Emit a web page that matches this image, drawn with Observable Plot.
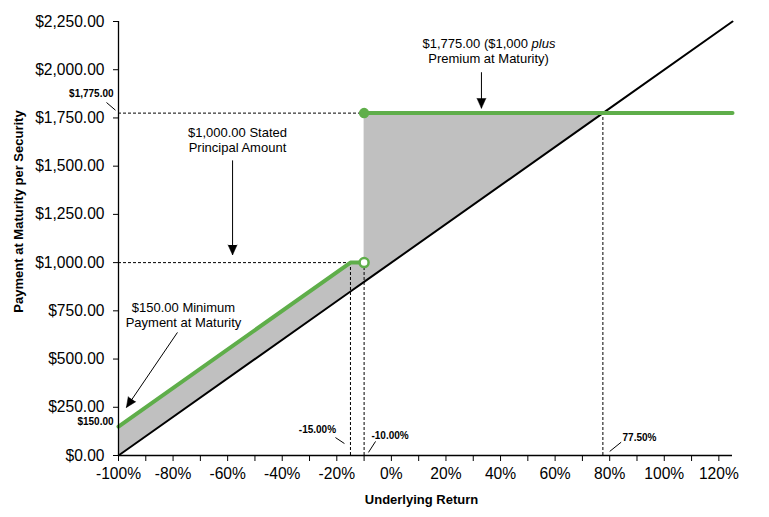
<!DOCTYPE html>
<html>
<head>
<meta charset="utf-8">
<script src="https://cdn.jsdelivr.net/npm/d3@7"></script>
<script src="https://cdn.jsdelivr.net/npm/@observablehq/plot@0.6"></script>
<style>
  html, body { margin: 0; padding: 0; background: white; }
  #chart svg { display: block; }
</style>
</head>
<body>
<div id="chart"></div>
<script>
// ---- data ----
const returns    = [-100, -15, -10, -10, 77.5, 125];   // underlying return (%)
const payment    = [150, 1000, 1000, 1775, 1775, 1775]; // payment at maturity
const underlying = [0, 850, 900, 900, 1775, 2250];      // 1:1 underlying value
const segment    = ["low", "low", "low", "high", "high", "high"];

const xTicks = [-100, -90, -80, -70, -60, -50, -40, -30, -20, -10, 0, 10, 20, 30, 40, 50, 60, 70, 80, 90, 100, 110, 120];
const xLabelled = [-100, -80, -60, -40, -20, 0, 20, 40, 60, 80, 100, 120];
const yTicks = [0, 250, 500, 750, 1000, 1250, 1500, 1750, 2000, 2250];

// dashed guides
const vGuideX   = [-15, -10, 77.5];
const vGuideTop = [1000, 1000, 1775];
const hGuideY   = [1000, 1775];
const hGuideEnd = [-15, -10];

// annotation callouts (data coordinates)
const noteText  = ["$1,000.00 Stated\nPrincipal Amount", "Premium at Maturity)", "$150.00 Minimum\nPayment at Maturity"];
const noteX     = [-56.4, 35.6, -76.2];
const noteY     = [1572, 2034, 664];
const noteLH    = [1.15, 1.15, 1.15];
const arrowX1   = [-58.2, 33.0, -78.4];
const arrowY1   = [1530, 1987, 638];
const arrowX2   = [-58.2, 33.0, -97.1];
const arrowY2   = [1040, 1800, 249];
const arrowRot  = [180, 180, 214];

// small bold value labels
const tagText   = ["$1,775.00", "$150.00", "-15.00%", "-10.00%", "77.50%"];
const tagX      = [-101.8, -101.8, -27.1, -7.3, 84.7];
const tagY      = [1857, 156, 119, 88, 73];
const tagAnchor = ["end", "end", "middle", "start", "start"];
const leadX1    = [-104.4, -20.5, -5.8, 80.0];
const leadY1    = [1830, 93, 73, 21];
const leadX2    = [-101.1, -17.2, -8.4, 84.2];
const leadY2    = [1790, 62, 16, 69];

// ---- tables ----
const pts = returns.map((r, i) => ({r, pay: payment[i], und: underlying[i], seg: segment[i]}));
const areaPts = pts.slice(0, 5);
const vGuides = vGuideX.map((x, i) => ({x, top: vGuideTop[i]}));
const hGuides = hGuideY.map((y, i) => ({y, end: hGuideEnd[i]}));
const notes = noteText.map((t, i) => ({t, x: noteX[i], y: noteY[i], lh: noteLH[i]}));
const arrows = arrowX1.map((x1, i) => ({x1, y1: arrowY1[i], x2: arrowX2[i], y2: arrowY2[i], rot: arrowRot[i]}));
const tags = tagText.map((t, i) => ({t, x: tagX[i], y: tagY[i], a: tagAnchor[i]}));
const leads = leadX1.map((x1, i) => ({x1, y1: leadY1[i], x2: leadX2[i], y2: leadY2[i]}));

const GREEN = "#5fae4a";
const GRAY = "#c0c0c0";
const FONT = "'Liberation Sans', Arial, Helvetica, sans-serif";
const money = d3.format(",.2f");

const tagMark = anchor => Plot.text(tags.filter(d => d.a === anchor), {
  x: "x", y: "y", text: "t", textAnchor: anchor, lineAnchor: "bottom",
  fontSize: 10, fontWeight: "bold", fill: "black"
});
const noteMark = (note, lh) => Plot.text([note], {
  x: "x", y: "y", text: "t", lineAnchor: "bottom", lineHeight: lh, fontSize: 13, fill: "black"
});

const chart = Plot.plot({
  width: 769,
  height: 517,
  marginLeft: 118,
  marginRight: 37,
  marginTop: 21,
  marginBottom: 62,
  style: {fontFamily: FONT, color: "black", background: "white"},
  x: {domain: [-100, 125]},
  y: {domain: [0, 2250]},
  marks: [
    Plot.areaY(areaPts, {x: "r", y1: "und", y2: "pay", fill: GRAY, curve: "linear"}),
    Plot.ruleX(vGuides, {x: "x", y1: 0, y2: "top", stroke: "black", strokeWidth: 1, strokeDasharray: "3,2"}),
    Plot.ruleY(hGuides, {y: "y", x1: -100, x2: "end", stroke: "black", strokeWidth: 1, strokeDasharray: "3,2"}),
    Plot.line(pts, {x: "r", y: "und", stroke: "black", strokeWidth: 2}),
    Plot.line(pts, {x: "r", y: "pay", z: "seg", stroke: GREEN, strokeWidth: 4}),
    Plot.dot([pts[3]], {x: "r", y: "pay", r: 4.5, fill: GREEN, stroke: GREEN}),
    Plot.dot([pts[2]], {x: "r", y: "pay", r: 4.5, fill: "white", stroke: GREEN, strokeWidth: 2.5}),
    // axes
    Plot.ruleX([-100], {y1: 0, y2: 2250, stroke: "black", strokeWidth: 1.3}),
    Plot.ruleY([0], {x1: -100, x2: 125, stroke: "black", strokeWidth: 1.3}),
    Plot.axisY({ticks: yTicks, tickFormat: d => "$" + money(d), tickSize: 5, tickPadding: 9, fontSize: 15.6, label: null, stroke: "black"}),
    Plot.axisX({ticks: xTicks, tickFormat: d => xLabelled.includes(d) ? `${d}%` : "", tickSize: 6, tickPadding: 6, fontSize: 15.6, label: null, stroke: "black"}),
    // axis titles
    Plot.text(["Underlying Return"], {frameAnchor: "bottom", textAnchor: "middle", dx: -4, dy: 48, lineAnchor: "bottom", fontSize: 13, fontWeight: "bold", fill: "black"}),
    Plot.text(["Payment at Maturity per Security"], {frameAnchor: "left", textAnchor: "middle", dx: -100, dy: -27, rotate: -90, lineAnchor: "middle", fontSize: 13, fontWeight: "bold", fill: "black"}),
    // callouts
    noteMark(notes[0], notes[0].lh),
    noteMark(notes[1], notes[1].lh),
    noteMark(notes[2], notes[2].lh),
    Plot.text([notes[1]], {x: "x", y: "y", text: () => "$1,775.00 ($1,000", textAnchor: "end", dx: 39.5, dy: -15.5, lineAnchor: "bottom", fontSize: 13, fill: "black"}),
    Plot.text([notes[1]], {x: "x", y: "y", text: () => "plus", textAnchor: "start", dx: 43, dy: -15.5, lineAnchor: "bottom", fontSize: 13, fontStyle: "italic", fill: "black"}),
    Plot.link(arrows, {x1: "x1", y1: "y1", x2: "x2", y2: "y2", stroke: "black", strokeWidth: 1}),
    Plot.vector(arrows, {x: "x2", y: "y2", rotate: "rot", length: 10, r: 4.5, shape: "spike", anchor: "end", fill: "black", stroke: "black", strokeWidth: 0.5}),
    // small bold labels
    tagMark("end"),
    tagMark("middle"),
    tagMark("start"),
    Plot.link(leads, {x1: "x1", y1: "y1", x2: "x2", y2: "y2", stroke: "black", strokeWidth: 1})
  ]
});

document.getElementById("chart").appendChild(chart);
</script>
</body>
</html>
